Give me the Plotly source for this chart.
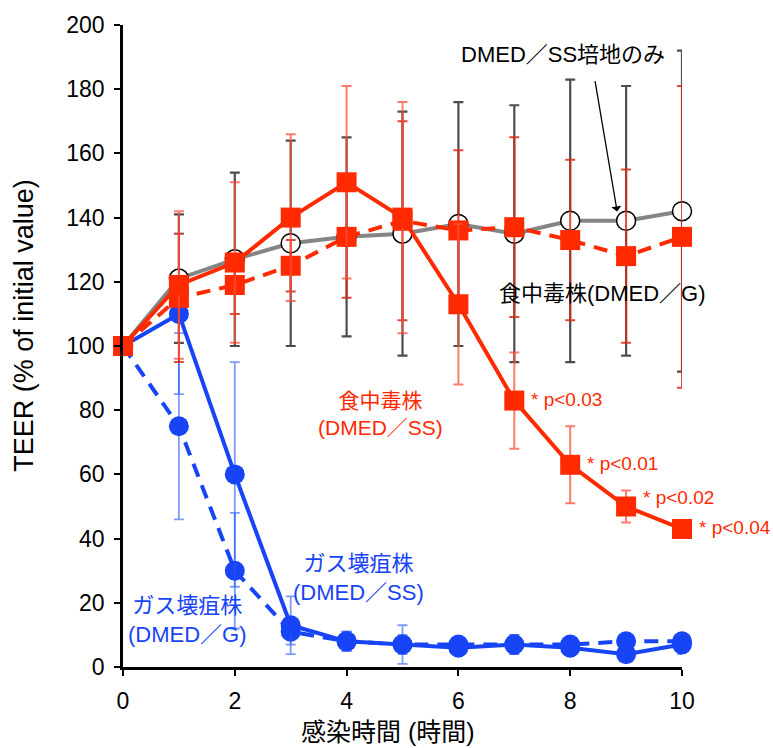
import plotly.graph_objects as go

hours = [0, 1, 2, 3, 4, 5, 6, 7, 8, 9, 10]

# DMED/SS medium only (control)
ctrl_y = [100, 121, 127, 132, 134, 135, 138, 135, 139, 139, 142]
ctrl_err = [0, 20, 27, 32, 31, 38, 38, 40, 44, 42, 50]

# Food-poisoning strain (DMED/SS) - red solid
fp_ss_y = [100, 119, 126, 140, 151, 140, 113, 83, 63, 50, 43]
fp_ss_err = [0, 23, 25, 26, 30, 36, 25, 15, 12, 5, 1]

# Food-poisoning strain (DMED/G) - red dashed
fp_g_y = [100, 115, 119, 125, 134, 139, 136, 137, 133, 128, 134]
fp_g_err = [0, 20, 9, 8, 19, 31, 25, 28, 25, 27, 47]

# Gas gangrene strain (DMED/SS) - blue solid
gg_ss_y = [100, 110, 60, 13, 8, 7, 6, 7, 6, 4, 7]
gg_ss_err = [0, 25, 35, 9, 3, 3, 2, 3, 2, 2, 3]

# Gas gangrene strain (DMED/G) - blue dashed
gg_g_y = [100, 75, 30, 11, 8, 7, 7, 7, 7, 8, 8]
gg_g_err = [0, 29, 18, 4, 3, 6, 2, 3, 2, 2, 2]

p_hours = [7, 8, 9, 10]
p_labels = ["* p<0.03", "* p<0.01", "* p<0.02", "* p<0.04"]

x_ticks = [0, 2, 4, 6, 8, 10]
y_ticks = [0, 20, 40, 60, 80, 100, 120, 140, 160, 180, 200]

RED = "#ff2a00"
BLUE = "#1744f5"
GRAY = "#858585"
FONT = "Liberation Sans, Arial, Noto Sans CJK JP, sans-serif"

fig = go.Figure()

fig.add_trace(go.Scatter(
    x=hours, y=gg_g_y, mode="lines+markers", cliponaxis=False,
    line=dict(color=BLUE, width=4, dash="14px,9px"),
    marker=dict(symbol="circle", size=20, color=BLUE),
    error_y=dict(type="data", array=gg_g_err, color="rgba(40,90,255,0.6)", thickness=1.8, width=5),
))
fig.add_trace(go.Scatter(
    x=hours, y=gg_ss_y, mode="lines+markers", cliponaxis=False,
    line=dict(color=BLUE, width=4),
    marker=dict(symbol="circle", size=20, color=BLUE),
    error_y=dict(type="data", array=gg_ss_err, color="rgba(40,90,255,0.6)", thickness=1.8, width=5),
))
fig.add_trace(go.Scatter(
    x=hours, y=ctrl_y, mode="lines+markers", cliponaxis=False,
    line=dict(color=GRAY, width=4),
    marker=dict(symbol="circle", size=19, color="white", line=dict(color="black", width=1.5)),
    error_y=dict(type="data", array=ctrl_err, color="#4d4d4d", thickness=2.2, width=5),
))
fig.add_trace(go.Scatter(
    x=hours, y=fp_g_y, mode="lines+markers", cliponaxis=False,
    line=dict(color=RED, width=4, dash="14px,9px"),
    marker=dict(symbol="square", size=20, color=RED),
    error_y=dict(type="data", array=fp_g_err, color="rgba(215,45,25,0.85)", thickness=2, width=5),
))
fig.add_trace(go.Scatter(
    x=hours, y=fp_ss_y, mode="lines+markers", cliponaxis=False,
    line=dict(color=RED, width=4),
    marker=dict(symbol="square", size=20, color=RED),
    error_y=dict(type="data", array=fp_ss_err, color="rgba(255,80,60,0.75)", thickness=2, width=5),
))

annotations = []
# p-values
for h, lab in zip(p_hours, p_labels):
    yv = fp_ss_y[hours.index(h)]
    annotations.append(dict(
        x=h, y=yv, xref="x", yref="y", text=lab, showarrow=False,
        xanchor="left", yanchor="middle", xshift=15, yshift=9 if h == 9 else 1,
        font=dict(family=FONT, size=19, color=RED),
    ))

annotations += [
    dict(x=7.87, y=190.7, xref="x", yref="y", text="DMED／SS培地のみ", showarrow=False,
         font=dict(family=FONT, size=22, color="black")),
    dict(x=8.84, y=141.9, xref="x", yref="y", ax=8.44, ay=183, axref="x", ayref="y",
         text="", showarrow=True, arrowhead=1, arrowsize=1.3, arrowwidth=1.3, arrowcolor="black"),
    dict(x=8.57, y=116.5, xref="x", yref="y", text="食中毒株(DMED／G)", showarrow=False,
         font=dict(family=FONT, size=22, color="black")),
    dict(x=4.6, y=78.8, xref="x", yref="y", text="食中毒株<br>(DMED／SS)", showarrow=False,
         font=dict(family=FONT, size=21, color=RED)),
    dict(x=4.22, y=27.8, xref="x", yref="y", text="ガス壊疽株<br>(DMED／SS)", showarrow=False,
         font=dict(family=FONT, size=22, color=BLUE)),
    dict(x=1.16, y=14.5, xref="x", yref="y", text="ガス壊疽株<br>(DMED／G)", showarrow=False,
         font=dict(family=FONT, size=22, color=BLUE)),
    # axis titles
    dict(x=4.74, y=0, xref="x", yref="paper", text="感染時間 (時間)", showarrow=False,
         yanchor="middle", yshift=-65, font=dict(family=FONT, size=25, color="black")),
    dict(x=0, y=106.3, xref="paper", yref="y", text="TEER (% of initial value)", showarrow=False,
         textangle=-90, xanchor="center", xshift=-99, font=dict(family=FONT, size=27, color="black")),
]

fig.update_layout(
    width=773, height=748,
    margin=dict(l=123, r=91, t=20, b=81),
    paper_bgcolor="white", plot_bgcolor="white",
    showlegend=False,
    annotations=annotations,
    xaxis=dict(range=[0, 10], tickvals=x_ticks, showline=True, linecolor="black", linewidth=2.5,
               ticks="outside", ticklen=6, tickwidth=2, tickcolor="black", showgrid=False,
               zeroline=False, ticklabelstandoff=6,
               tickfont=dict(family=FONT, size=23, color="black")),
    yaxis=dict(range=[0, 200], tickvals=y_ticks, showline=True, linecolor="black", linewidth=2.5,
               ticks="outside", ticklen=6, tickwidth=2, tickcolor="black", showgrid=False,
               zeroline=False, ticklabelstandoff=5,
               tickfont=dict(family=FONT, size=23, color="black")),
)

fig.write_html("out.html")
